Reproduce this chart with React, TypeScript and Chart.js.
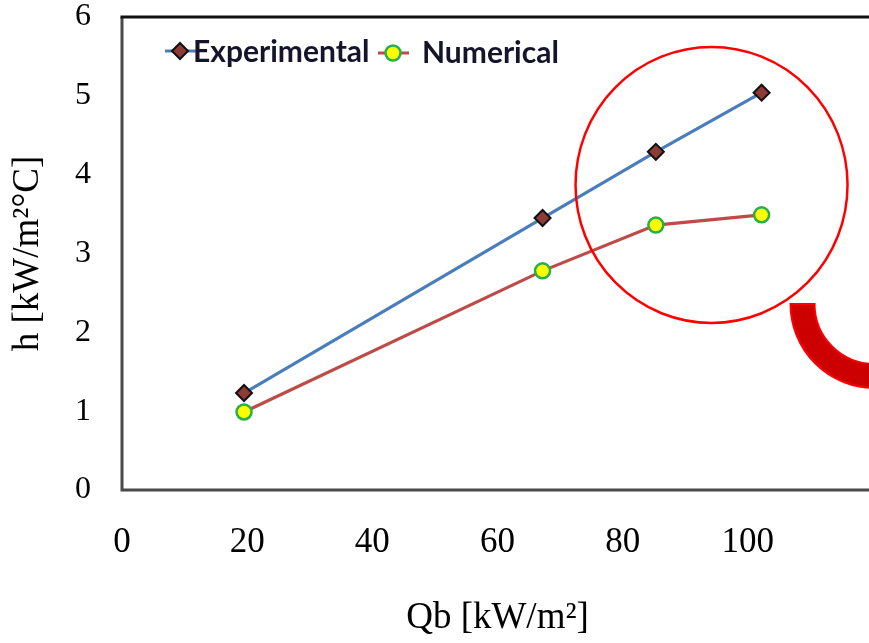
import React, { useEffect, useRef } from 'react';
import { Chart, registerables } from 'chart.js';

Chart.register(...registerables);

// ---- data ----
const qb = [19.5, 67.2, 85.3, 102.2];
const experimental = [1.23, 3.45, 4.29, 5.04];
const numerical = [0.99, 2.78, 3.36, 3.49];
const seriesLabels = ['Experimental', 'Numerical'];
const xTitle = 'Qb [kW/m²]';
const yTitle = 'h [kW/m²°C]';
const xRange = [0, 120];
const xStep = 20;
const yRange = [0, 6];
const yStep = 1;
// highlight annotation (data units)
const highlightCenter = { x: 94.2, y: 3.87 };

const SERIF = '"Liberation Serif", "Times New Roman", serif';

function drawDiamond(ctx: CanvasRenderingContext2D, x: number, y: number, r: number, fill: string, stroke: string, lw: number) {
  ctx.beginPath();
  ctx.moveTo(x - r, y);
  ctx.lineTo(x, y - r);
  ctx.lineTo(x + r, y);
  ctx.lineTo(x, y + r);
  ctx.closePath();
  ctx.fillStyle = fill;
  ctx.fill();
  ctx.lineWidth = lw;
  ctx.strokeStyle = stroke;
  ctx.stroke();
}
function drawCircle(ctx: CanvasRenderingContext2D, x: number, y: number, r: number, fill: string, stroke: string, lw: number) {
  ctx.beginPath();
  ctx.arc(x, y, r, 0, Math.PI * 2);
  ctx.fillStyle = fill;
  ctx.fill();
  ctx.lineWidth = lw;
  ctx.strokeStyle = stroke;
  ctx.stroke();
}

const decorPlugin = {
  id: 'decor',
  afterDraw(chart: any) {
    const { ctx, chartArea, scales } = chart;
    ctx.save();
    // frame
    ctx.lineWidth = 3;
    ctx.strokeStyle = '#4a4a4a';
    ctx.beginPath();
    ctx.moveTo(chartArea.left, chartArea.top);
    ctx.lineTo(chartArea.left, chartArea.bottom);
    ctx.lineTo(chartArea.right, chartArea.bottom);
    ctx.stroke();
    ctx.strokeStyle = '#111';
    ctx.beginPath();
    ctx.moveTo(chartArea.left - 1.5, chartArea.top);
    ctx.lineTo(chartArea.right, chartArea.top);
    ctx.lineTo(chartArea.right, chartArea.bottom);
    ctx.stroke();

    // legend
    const ds = chart.data.datasets;
    const items = [
      { x0: 165, x1: 196, mx: 180, my: 51, tx: 193, ty: 62 },
      { x0: 378, x1: 409, mx: 393, my: 53, tx: 422, ty: 63 },
    ];
    ds.forEach((d: any, i: number) => {
      const it = items[i];
      ctx.lineWidth = 3;
      ctx.strokeStyle = d.borderColor;
      ctx.beginPath();
      ctx.moveTo(it.x0, it.my);
      ctx.lineTo(it.x1, it.my);
      ctx.stroke();
      if (d.pointStyle === 'rectRot') drawDiamond(ctx, it.mx, it.my, d.pointRadius, d.pointBackgroundColor, d.pointBorderColor, d.pointBorderWidth);
      else drawCircle(ctx, it.mx, it.my, d.pointRadius, d.pointBackgroundColor, d.pointBorderColor, d.pointBorderWidth);
      ctx.font = 'bold 30px Lato, "Noto Sans", sans-serif';
      ctx.fillStyle = '#14142a';
      ctx.textBaseline = 'alphabetic';
      ctx.textAlign = 'left';
      ctx.fillText(d.label, it.tx, it.ty);
    });

    // red highlight circle
    const cx = scales.x.getPixelForValue(highlightCenter.x);
    const cy = scales.y.getPixelForValue(highlightCenter.y);
    ctx.lineWidth = 2.5;
    ctx.strokeStyle = '#ff0000';
    ctx.beginPath();
    ctx.ellipse(cx, cy, 136, 138, 0, 0, Math.PI * 2);
    ctx.stroke();

    // curved red arrow band
    const ax = cx + 163;
    const ay = cy + 119;
    ctx.beginPath();
    ctx.arc(ax, ay, 84, Math.PI, Math.PI / 2, true);
    ctx.arc(ax, ay, 60, Math.PI / 2, Math.PI, false);
    ctx.closePath();
    ctx.fillStyle = '#cc0000';
    ctx.fill();
    ctx.lineWidth = 2;
    ctx.strokeStyle = '#ff0000';
    ctx.stroke();
    ctx.restore();
  },
};

export default function App() {
  const ref = useRef<HTMLCanvasElement | null>(null);
  useEffect(() => {
    if (!ref.current) return;
    const chart = new Chart(ref.current, {
      type: 'line',
      data: {
        datasets: [
          {
            label: seriesLabels[0],
            data: qb.map((x, i) => ({ x, y: experimental[i] })),
            borderColor: '#4A7EBB',
            borderWidth: 3.2,
            pointStyle: 'rectRot',
            pointRadius: 8,
            pointBackgroundColor: '#8E3B38',
            pointBorderColor: '#111111',
            pointBorderWidth: 2,
            tension: 0,
          },
          {
            label: seriesLabels[1],
            data: qb.map((x, i) => ({ x, y: numerical[i] })),
            borderColor: '#BE4B48',
            borderWidth: 3.2,
            pointStyle: 'circle',
            pointRadius: 7.5,
            pointBackgroundColor: '#FFFF00',
            pointBorderColor: '#25B14A',
            pointBorderWidth: 2.5,
            tension: 0,
          },
        ],
      },
      options: {
        responsive: false,
        animation: false,
        devicePixelRatio: 1,
        layout: { padding: { top: 17, right: 28, left: 0, bottom: 0 } },
        plugins: { legend: { display: false }, tooltip: { enabled: false } },
        scales: {
          x: {
            type: 'linear',
            min: xRange[0],
            max: xRange[1],
            grid: { display: true, drawOnChartArea: false, drawTicks: true, tickLength: 30, tickColor: 'rgba(0,0,0,0)' },
            border: { display: false },
            ticks: {
              stepSize: xStep,
              color: '#000',
              padding: 2,
              font: { family: SERIF, size: 35, lineHeight: 1.2 },
              callback: (v: any) => (v === xRange[1] ? '' : String(v)),
            },
            title: { display: true, text: xTitle, color: '#000', padding: { top: 0, bottom: 3 }, font: { family: SERIF, size: 37, lineHeight: 1.2 } },
            afterFit: (s: any) => { s.height = 153; },
          },
          y: {
            min: yRange[0],
            max: yRange[1],
            grid: { display: true, drawOnChartArea: false, drawTicks: true, tickLength: 29, tickColor: 'rgba(0,0,0,0)' },
            border: { display: false },
            ticks: { stepSize: yStep, color: '#000', padding: 2, font: { family: SERIF, size: 32, lineHeight: 0.9 } },
            title: { display: true, text: yTitle, color: '#000', padding: { top: 6, bottom: 0 }, font: { family: SERIF, size: 37, lineHeight: 1.2 } },
            afterFit: (s: any) => { s.width = 122; },
          },
        },
      },
      plugins: [decorPlugin],
    } as any);
    return () => chart.destroy();
  }, []);
  return (
    <div style={{ position: 'fixed', left: 0, top: 0, width: 869, height: 643, overflow: 'hidden', background: '#fff' }}>
      <canvas ref={ref} width={901} height={643} style={{ display: 'block' }} />
    </div>
  );
}
